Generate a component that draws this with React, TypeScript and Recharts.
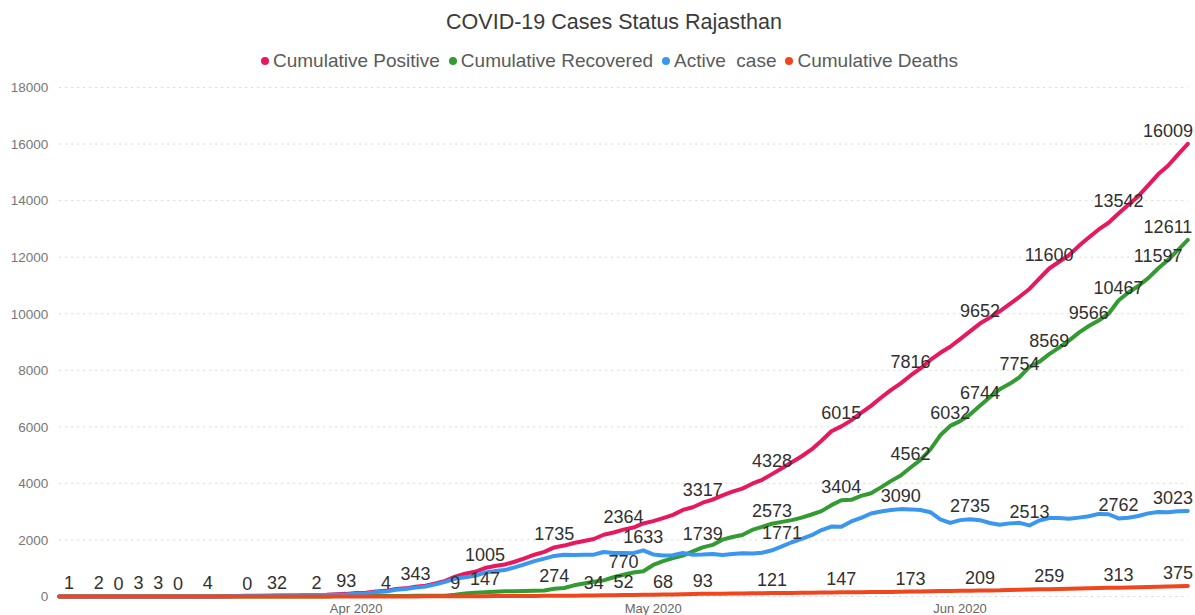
import React from 'react';
import { LineChart, Line, XAxis, YAxis, CartesianGrid, LabelList } from 'recharts';

// daily values, Mar 2 2020 (index 0) to Jun 24 2020 (index 114)
const positive = [
  1, 1, 2, 2, 2, 2, 2, 2, 3, 3, 3, 3, 4, 4, 4, 4, 4,
  7, 17, 23, 25, 28, 32, 36, 39, 54, 57, 59, 79, 93,
  120, 133, 179, 200, 266, 288, 343, 383, 463, 553, 700, 804, 873, 1005,
  1076, 1131, 1229, 1351, 1478, 1576, 1735, 1801, 1890, 1964, 2034, 2185, 2262, 2364,
  2438, 2584, 2666, 2772, 2886, 3061, 3158, 3317, 3427, 3579, 3708, 3814, 3988, 4126, 4328,
  4534, 4747, 4960, 5202, 5507, 5845, 6015, 6227, 6494, 6742, 7028, 7300, 7536, 7816,
  8067, 8365, 8617, 8831, 9100, 9373, 9652, 9862, 10084, 10337, 10599, 10876, 11245, 11600,
  11838, 12068, 12401, 12694, 12981, 13216, 13542, 13857, 14156, 14536, 14930, 15232, 15627, 16009,
];

const recovered = [
  0, 0, 0, 0, 0, 0, 0, 0, 0, 0, 0, 0, 0, 0, 0, 0, 0,
  3, 3, 3, 3, 3, 3, 3, 3, 3, 3, 3, 14, 21,
  21, 21, 21, 21, 21, 21, 25, 25, 30, 30, 60, 110, 133, 147,
  164, 183, 183, 193, 205, 213, 274, 300, 395, 460, 520, 570, 680, 770,
  850, 893, 1116, 1253, 1356, 1446, 1596, 1739, 1825, 2011, 2104, 2176, 2354, 2460, 2573,
  2638, 2700, 2790, 2900, 3020, 3230, 3404, 3420, 3560, 3650, 3860, 4080, 4279, 4562,
  4830, 5200, 5700, 6032, 6200, 6435, 6744, 7050, 7330, 7520, 7754, 8117, 8300, 8569,
  8800, 9050, 9330, 9566, 9760, 10000, 10467, 10750, 10980, 11260, 11597, 11900, 12250, 12611,
];

const active = [
  1, 1, 2, 2, 2, 2, 2, 2, 3, 3, 3, 3, 4, 4, 4, 4, 4,
  4, 14, 20, 22, 25, 29, 33, 36, 50, 52, 54, 63, 69,
  96, 109, 155, 175, 241, 263, 314, 353, 428, 516, 631, 683, 729, 847,
  898, 934, 1029, 1139, 1251, 1338, 1435, 1474, 1468, 1473, 1480, 1574, 1536, 1542,
  1533, 1633, 1488, 1451, 1459, 1538, 1473, 1485, 1505, 1467, 1501, 1531, 1521, 1549, 1634,
  1771, 1919, 2039, 2167, 2349, 2472, 2464, 2656, 2781, 2936, 3008, 3057, 3090, 3081,
  3057, 2981, 2725, 2601, 2701, 2735, 2699, 2599, 2536, 2586, 2605, 2513, 2690, 2772,
  2773, 2746, 2789, 2836, 2920, 2908, 2762, 2785, 2846, 2940, 2988, 2979, 3012, 3023,
];

const deaths = [
  0, 0, 0, 0, 0, 0, 0, 0, 0, 0, 0, 0, 0, 0, 0, 0, 0,
  0, 0, 0, 0, 0, 0, 0, 0, 1, 2, 2, 2, 3,
  3, 3, 3, 4, 4, 4, 4, 5, 5, 7, 9, 11, 11, 11,
  14, 14, 17, 19, 22, 25, 26, 27, 27, 31, 34, 41, 46, 52,
  55, 58, 62, 68, 71, 77, 89, 93, 97, 101, 103, 107, 113, 117, 121,
  125, 128, 131, 135, 138, 143, 147, 151, 153, 156, 160, 163, 167, 173,
  180, 184, 192, 198, 199, 203, 209, 213, 218, 231, 240, 246, 255, 259,
  265, 272, 282, 292, 301, 308, 313, 322, 330, 336, 345, 353, 365, 375,
];

// which days carry a data label, per series
const positiveLabelDays = [1, 8, 15, 22, 29, 36, 43, 50, 57, 65, 72, 79, 86, 93, 100, 107, 114];
const recoveredLabelDays = [6, 43, 50, 57, 65, 72, 79, 86, 90, 93, 97, 100, 104, 107, 111, 114];
const activeLabelDays = [4, 10, 59, 73, 85, 92, 98, 107, 114];
const deathLabelDays = [12, 19, 26, 33, 40, 54, 57, 61, 65, 72, 79, 86, 93, 100, 107, 114];

const monthTicks = [30, 60, 91];
const monthLabels = ['Apr 2020', 'May 2020', 'Jun 2020'];
const yTicks = [0, 2000, 4000, 6000, 8000, 10000, 12000, 14000, 16000, 18000];

const series = [
  { key: 'positive', name: 'Cumulative Positive', color: '#e8185e' },
  { key: 'recovered', name: 'Cumulative Recovered', color: '#349b32' },
  { key: 'active', name: 'Active  case', color: '#3a96ee' },
  { key: 'deaths', name: 'Cumulative Deaths', color: '#f0461e' },
];

const data = positive.map((p, i) => ({
  day: i,
  positive: p,
  recovered: recovered[i],
  active: active[i],
  deaths: deaths[i],
  positiveLabel: positiveLabelDays.includes(i) ? p : null,
  recoveredLabel: recoveredLabelDays.includes(i) ? recovered[i] : null,
  activeLabel: activeLabelDays.includes(i) ? active[i] : null,
  deathsLabel: deathLabelDays.includes(i) ? deaths[i] : null,
}));

const FONT = '"Liberation Sans", Arial, sans-serif';
const WIDTH = 1195;
const HEIGHT = 615;

const renderValue = (props: any) => {
  const { x, y, value } = props;
  if (value === null || value === undefined) return null;
  const text = String(value);
  const w = text.length * 0.556 * 18;
  let cx = x;
  if (cx + w / 2 > WIDTH - 2) cx = WIDTH - 2 - w / 2;
  return (
    <text x={cx} y={y - 7} textAnchor="middle" fontSize={18} fill="#303030" fontFamily={FONT}>
      {text}
    </text>
  );
};

export default function App() {
  return (
    <div style={{ position: 'relative', width: WIDTH, height: HEIGHT, background: '#fff', fontFamily: FONT }}>
      <style>{'body{margin:0;background:#fff}'}</style>
      <div
        style={{
          position: 'absolute',
          top: 9,
          left: 0,
          width: 1228,
          textAlign: 'center',
          fontSize: 21.5,
          color: '#3a3a3a',
          lineHeight: '26px',
        }}
      >
        COVID-19 Cases Status Rajasthan
      </div>
      <div
        style={{
          position: 'absolute',
          top: 49,
          left: 261,
          display: 'flex',
          alignItems: 'center',
          fontSize: 19,
          color: '#5a5a5a',
          lineHeight: '24px',
          whiteSpace: 'pre',
        }}
      >
        {series.map((s) => (
          <div key={s.key} style={{ display: 'flex', alignItems: 'center', marginRight: 9 }}>
            <span
              style={{
                display: 'inline-block',
                width: 8,
                height: 8,
                borderRadius: 4,
                background: s.color,
                marginRight: 4,
              }}
            />
            <span>{s.name}</span>
          </div>
        ))}
      </div>
      <LineChart
        width={WIDTH}
        height={HEIGHT}
        data={data}
        margin={{ top: 87.5, right: 7.2, bottom: 0.5, left: 7.2 }}
      >
        <CartesianGrid vertical={false} stroke="#d6d6d6" strokeDasharray="2 4" />
        <XAxis
          dataKey="day"
          type="number"
          domain={[0, 114]}
          ticks={monthTicks}
          tickFormatter={(v: number) => monthLabels[monthTicks.indexOf(v)]}
          tickLine={false}
          axisLine={false}
          tickMargin={1}
          height={18}
          tick={{ fontSize: 13, fill: '#666', fontFamily: FONT }}
        />
        <YAxis
          domain={[0, 18000]}
          ticks={yTicks}
          tickLine={false}
          axisLine={false}
          tickMargin={5}
          width={52}
          tick={{ fontSize: 13.5, fill: '#777', fontFamily: FONT }}
        />
        {series.map((s) => (
          <Line
            key={s.key}
            type="linear"
            dataKey={s.key}
            name={s.name}
            stroke={s.color}
            strokeWidth={4}
            strokeLinecap="round"
            strokeLinejoin="round"
            dot={false}
            activeDot={false}
            isAnimationActive={false}
          >
            <LabelList dataKey={s.key + 'Label'} content={renderValue} />
          </Line>
        ))}
      </LineChart>
    </div>
  );
}
